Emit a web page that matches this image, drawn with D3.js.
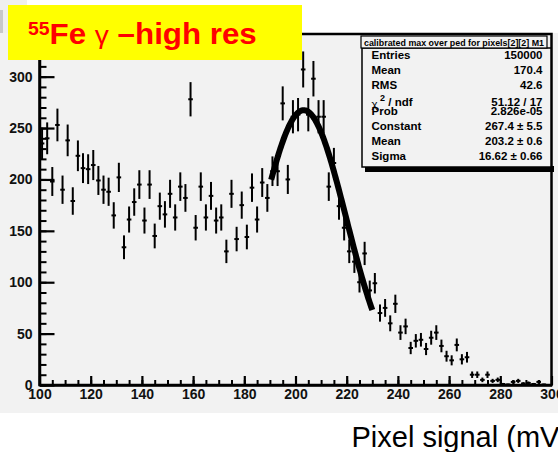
<html>
	<head>
		<meta charset="utf-8">
		<script type="text/javascript" src="https://cdn.jsdelivr.net/npm/d3@7/dist/d3.min.js"></script>
		<style>
			body { margin: 0; background: #fff; }
			text { font-family: "Liberation Sans", Arial, sans-serif; }
		</style>
	</head>
	<body>
		<div id="contt"></div>
		<script>
		// histogram: 100 bins of 2 mV from 100 to 300
		var binLow = 100, binWidth = 2;
		var counts = [
			235, 240, 198, 253, 190, 238, 179, 223, 211, 210,
			214, 199, 190, 188, 165, 202, 134, 161, 178, 195,
			160, 195, 145, 174, 166, 186, 163, 193, 182, 278,
			153, 193, 163, 184, 160, 163, 130, 186, 142, 175,
			144, 192, 161, 197, 182, 208, 208, 274, 200, 261,
			263, 307, 263, 298, 261, 261, 193, 216, 174, 153,
			130, 120, 100, 128, 92, 99, 70, 75, 60, 79,
			51, 57, 36, 43, 44, 35, 46, 51, 38, 28,
			24, 39, 25, 27, 10, 10, 5, 10, 4, 5,
			1, 0.5, 3, 4, 1.5, 2, 1, 3, 0.5, 0
		];
		// gaus fit: constant, mean, sigma and the range it was fitted on
		var fitPar = [267.4, 203.2, 16.62];
		var fitRange = [190.5, 230];

		var xTicks = [100, 120, 140, 160, 180, 200, 220, 240, 260, 280, 300];
		var yTicks = [0, 50, 100, 150, 200, 250, 300];

		var statLabels = ["Entries", "Mean", "RMS", "chi", "Prob", "Constant", "Mean", "Sigma"];
		var statValues = ["150000", "170.4", "42.6", "51.12 / 17", "2.826e-05", "267.4 \u00b1  5.5", "203.2 \u00b1  0.6", "16.62 \u00b1 0.66"];
		var statTitle = "calibrated max over ped for pixels[2][2] M1";

		var w = 558, h = 452;
		var svg = d3.select("#contt").append("svg")
			.attr("width", w)
			.attr("height", h);

		// canvas background
		svg.append("rect").attr("x", 0).attr("y", 33).attr("width", w).attr("height", 380).attr("fill", "#f2f2f2");
		svg.append("rect").attr("x", 0).attr("y", 0).attr("width", 27).attr("height", 33).attr("fill", "#efefef");
		svg.append("rect").attr("x", 0).attr("y", 10).attr("width", 3).attr("height", 23).attr("fill", "#c8c8c8");

		var x = d3.scaleLinear().domain([100, 300]).range([39.5, 551.5]);
		var y = d3.scaleLinear().domain([0, 341.5]).range([385, 34]);

		// frame
		svg.append("rect")
			.attr("x", x(100)).attr("y", y(341.5))
			.attr("width", x(300) - x(100)).attr("height", y(0) - y(341.5))
			.attr("fill", "none").attr("stroke", "#000").attr("stroke-width", 2.5);

		// minor ticks
		svg.append("g")
			.attr("transform", "translate(" + x(100) + ",0)")
			.call(d3.axisLeft(y).tickValues(d3.range(0, 341, 10)).tickSize(-7).tickSizeOuter(0).tickFormat(""))
			.call(function(g) { g.select(".domain").remove(); g.selectAll("line").attr("stroke-width", 2); });
		svg.append("g")
			.attr("transform", "translate(0," + y(0) + ")")
			.call(d3.axisBottom(x).tickValues(d3.range(100, 301, 5)).tickSize(-5).tickSizeOuter(0).tickFormat(""))
			.call(function(g) { g.select(".domain").remove(); g.selectAll("line").attr("stroke-width", 2); });

		// major ticks + labels
		var yAxis = svg.append("g")
			.attr("transform", "translate(" + x(100) + ",0)")
			.call(d3.axisLeft(y).tickValues(yTicks).tickSize(-15).tickSizeOuter(0).tickPadding(7));
		var xAxis = svg.append("g")
			.attr("transform", "translate(0," + y(0) + ")")
			.call(d3.axisBottom(x).tickValues(xTicks).tickSize(-9).tickSizeOuter(0).tickPadding(4));
		[yAxis, xAxis].forEach(function(g) {
			g.select(".domain").attr("stroke-width", 2.5);
			g.selectAll("line").attr("stroke-width", 2.2);
			g.selectAll("text")
				.attr("fill", "#111")
				.style("font-family", "'Liberation Sans', Arial, sans-serif")
				.style("font-weight", "bold")
				.style("font-size", "14px");
		});

		// data points with sqrt(N) errors
		var pts = svg.append("g").attr("stroke", "#000");
		counts.forEach(function(c, i) {
			var cx = x(binLow + binWidth * i + binWidth / 2);
			var err = Math.sqrt(c);
			pts.append("line")
				.attr("x1", cx).attr("x2", cx)
				.attr("y1", y(c + err)).attr("y2", y(Math.max(c - err, 0)))
				.attr("stroke-width", 2);
			pts.append("line")
				.attr("x1", cx - 2.3).attr("x2", cx + 2.3)
				.attr("y1", y(c)).attr("y2", y(c))
				.attr("stroke-width", 2);
		});

		// fitted gaussian
		function gaus(v) {
			return fitPar[0] * Math.exp(-0.5 * Math.pow((v - fitPar[1]) / fitPar[2], 2));
		}
		var line = d3.line()
			.x(function(d) { return x(d); })
			.y(function(d) { return y(gaus(d)); });
		svg.append("path")
			.datum(d3.range(fitRange[0], fitRange[1] + 0.01, 0.25))
			.attr("d", line)
			.attr("fill", "none")
			.attr("stroke", "#000")
			.attr("stroke-width", 6);

		// stats box
		var st = svg.append("g");
		st.append("rect").attr("x", 365).attr("y", 166).attr("width", 189).attr("height", 6).attr("fill", "#000");
		st.append("rect").attr("x", 362).attr("y", 48).attr("width", 189).attr("height", 119)
			.attr("fill", "#f2f2f2").attr("stroke", "#000").attr("stroke-width", 1.5);
		st.append("rect").attr("x", 361).attr("y", 36).attr("width", 186).attr("height", 12)
			.attr("fill", "#f2f2f2").attr("stroke", "#000").attr("stroke-width", 1.2);
		st.append("text")
			.attr("x", 364).attr("y", 45.5)
			.attr("textLength", 180).attr("lengthAdjust", "spacingAndGlyphs")
			.style("font-size", "8.5px").style("font-weight", "bold")
			.text(statTitle);
		var rowY = [59, 74, 89, 105.5, 115, 129.5, 144.5, 159.5];
		statLabels.forEach(function(lab, i) {
			var t = st.append("text")
				.attr("x", 371.5).attr("y", rowY[i])
				.style("font-size", "11.5px").style("font-weight", "bold");
			if (lab == "chi") {
				t.append("tspan").attr("dy", 2).style("font-weight", "normal").text("\u03c7");
				t.append("tspan").attr("dy", -7).style("font-size", "9px").text(" 2");
				t.append("tspan").attr("dy", 5).text(" / ndf");
			} else {
				t.text(lab);
			}
			st.append("text")
				.attr("x", 542.5).attr("y", rowY[i])
				.attr("text-anchor", "end")
				.style("font-size", "11.5px").style("font-weight", "bold")
				.text(statValues[i]);
		});

		// title box
		svg.append("rect").attr("x", 8).attr("y", 5).attr("width", 294).attr("height", 55).attr("fill", "#ffff00");
		var tt = svg.append("text")
			.attr("transform", "translate(28,43.5) scale(1.08,1)")
			.attr("fill", "#ff0000")
			.style("font-weight", "bold")
			.style("font-size", "29px");
		tt.append("tspan").attr("dy", -9).style("font-size", "18px").text("55");
		tt.append("tspan").attr("dy", 9).text("Fe ");
		tt.append("tspan").style("font-weight", "normal").style("font-size", "26px").text("\u03b3");
		tt.append("tspan").text(" \u2013high res");

		// axis title
		svg.append("text")
			.attr("x", 351.5).attr("y", 446.5)
			.attr("fill", "#000")
			.style("font-size", "29px")
			.text("Pixel signal (mV)");
		</script>
	</body>
</html>
